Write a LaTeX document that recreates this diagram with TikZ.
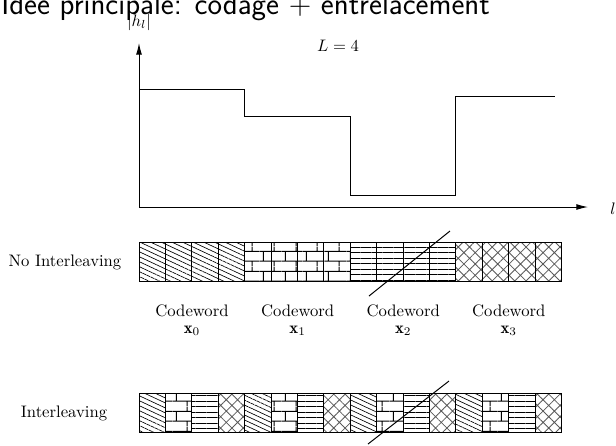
\documentclass[tikz,border=0pt]{standalone}
\usepackage{fontspec}
\usepackage{amsmath}
\usetikzlibrary{arrows.meta,patterns.meta}
\pgfdeclarepattern{
  name=wallbricks,
  type=uncolored,
  bottom left={\pgfpoint{0pt}{0pt}},
  top right={\pgfpoint{13pt}{12pt}},
  tile size={\pgfpoint{13pt}{12pt}},
  code={
    \pgfsetlinewidth{0.6pt}
    \pgfpathmoveto{\pgfpoint{0pt}{3pt}}\pgfpathlineto{\pgfpoint{13pt}{3pt}}
    \pgfpathmoveto{\pgfpoint{0pt}{9pt}}\pgfpathlineto{\pgfpoint{13pt}{9pt}}
    \pgfpathmoveto{\pgfpoint{2pt}{3pt}}\pgfpathlineto{\pgfpoint{2pt}{9pt}}
    \pgfpathmoveto{\pgfpoint{8.5pt}{9pt}}\pgfpathlineto{\pgfpoint{8.5pt}{12pt}}
    \pgfpathmoveto{\pgfpoint{8.5pt}{0pt}}\pgfpathlineto{\pgfpoint{8.5pt}{3pt}}
    \pgfusepath{stroke}
  }
}
\tikzset{
  cwA/.style={pattern={Lines[angle=-25,distance=2.7pt,line width=0.4pt]}},
  cwB/.style={pattern=wallbricks},
  cwC/.style={pattern={Lines[angle=0,distance=3.3pt,line width=0.55pt]}},
  cwD/.style={pattern={Hatch[angle=45,distance=4.8pt,line width=0.5pt]},pattern color=black!65},
  cellbox/.style={draw=black,line width=0.6pt},
  axis/.style={line width=0.6pt,-{Latex[length=7pt,width=3.6pt]}},
  cwlabel/.style={font=\normalsize,inner sep=0pt},
}
% one cell of a row: index, top, pattern style
\newcommand{\cwcell}[3]{%
  \draw[#3,cellbox] ({139+26.4*(#1)},#2) rectangle ++(26.4,39);
}

\begin{document}
\begin{tikzpicture}[x=0.6pt,y=-0.6pt]
  \useasboundingbox (0,0) rectangle (616,445);
  \node[anchor=base west,inner sep=0pt,font=\sffamily\fontsize{18.5}{21}\selectfont]
    (title) at (1,14) {Idée principale: codage + entrelacement};

  % channel
  \coordinate (O) at (139,207);
  \coordinate (ytip) at (139,43);
  \coordinate (xtip) at (588,207);
  \draw[axis] (O) -- (ytip);
  \draw[axis] (O) -- (xtip);
  \node[cwlabel] (hl) at (139,22) {$|h_l|$};
  \node[cwlabel] (l) at (613,209) {$l$};
  \node[cwlabel] (L) at (338,46) {$L=4$};
  \draw[line width=0.6pt] (139,89) -- (244,89) -- (244,116) -- (350,116)
    -- (350,195) -- (455,195) -- (455,96) -- (555,96);

  % no interleaving
  \node[cwlabel] (noint) at (65,262) {No Interleaving};
  \foreach \k in {0,...,3}{
    \cwcell{\k}{242}{cwA}
    \cwcell{4+\k}{242}{cwB}
    \cwcell{8+\k}{242}{cwC}
    \cwcell{12+\k}{242}{cwD}
  }
  \foreach \i in {0,...,3}{
    \node[cwlabel] (cw\i) at ({192+105.6*\i},311) {Codeword};
    \node[cwlabel] (x\i) at ({192+105.6*\i},331) {$\mathbf{x}_\i$};
  }
  \coordinate (cutA1) at (369,296);
  \coordinate (cutA2) at (450,231);
  \draw[line width=0.6pt] (cutA1) -- (cutA2);

  % interleaving
  \node[cwlabel] (int) at (64,413) {Interleaving};
  \foreach \k in {0,...,3}{
    \cwcell{4*\k}{393}{cwA}
    \cwcell{4*\k+1}{393}{cwB}
    \cwcell{4*\k+2}{393}{cwC}
    \cwcell{4*\k+3}{393}{cwD}
  }
  \coordinate (cutB1) at (368,444);
  \coordinate (cutB2) at (449,381);
  \draw[line width=0.6pt] (cutB1) -- (cutB2);
\end{tikzpicture}
\end{document}
